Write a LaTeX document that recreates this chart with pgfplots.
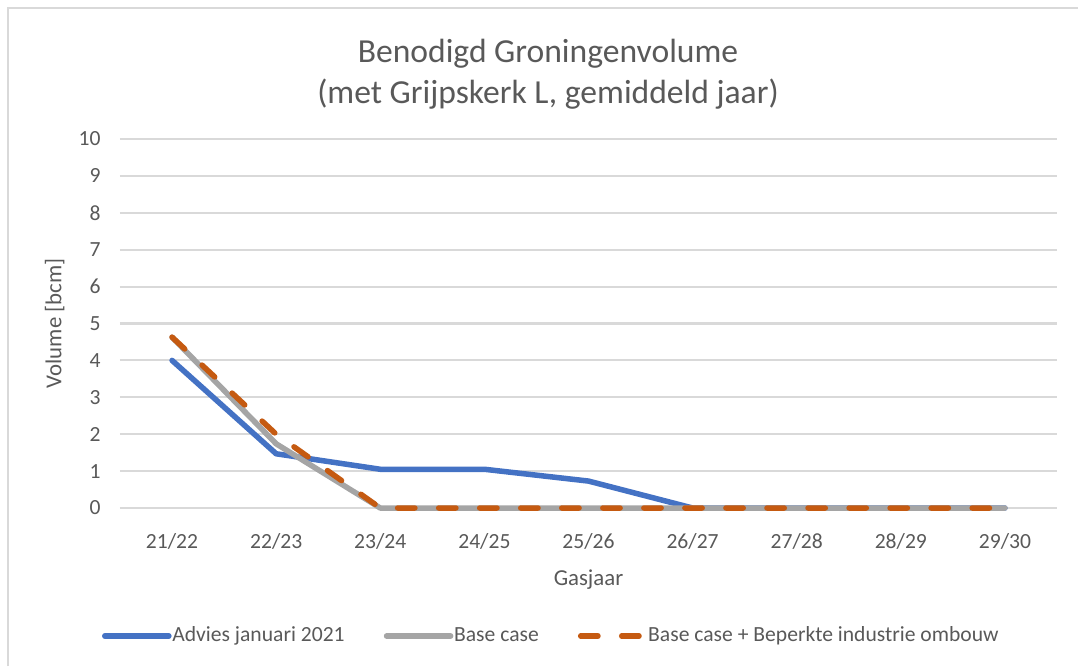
\documentclass[border=0pt]{standalone}
\usepackage{pgfplots}
\pgfplotsset{compat=1.18}
\usepackage{fontspec}
\setmainfont{Carlito}
\definecolor{cblue}{HTML}{4472C4}
\definecolor{cgray}{HTML}{A5A5A5}
\definecolor{corange}{HTML}{C55A11}
\definecolor{textgray}{HTML}{595959}
\definecolor{gridgray}{HTML}{D9D9D9}
\begin{document}
\begin{tikzpicture}[x=0.416667pt,y=0.416667pt]
\path[use as bounding box] (0,0) rectangle (1078,666);
\draw[gridgray, line width=0.9pt] (8,0) -- (8,658) -- (1078,658);
\node[anchor=base, font=\fontsize{14}{17}\selectfont, text=textgray, inner sep=0pt] at (548,604) {Benodigd Groningenvolume};
\node[anchor=base, font=\fontsize{14}{17}\selectfont, text=textgray, inner sep=0pt] at (548,563) {(met Grijpskerk L, gemiddeld jaar)};
\begin{axis}[
  at={(50pt,65.833pt)}, anchor=south west,
  scale only axis, width=390.42pt, height=153.75pt,
  xmin=-0.5, xmax=8.5, ymin=0, ymax=10,
  xtick={0,...,8}, ytick={0,...,10},
  xticklabels={21/22,22/23,23/24,24/25,25/26,26/27,27/28,28/29,29/30},
  axis line style={draw=none},
  major tick length=0pt,
  ymajorgrids, grid style={gridgray, line width=0.85pt},
  clip=false,
  /pgf/number format/assume math mode=true,
  tick label style={font=\fontsize{9}{11}\selectfont, text=textgray},
  yticklabel style={inner sep=0pt, xshift=-7.9pt},
  xticklabel style={inner sep=0pt, yshift=-10.4pt},
  xlabel={Gasjaar}, ylabel={Volume [bcm]},
  label style={font=\fontsize{9.5}{11}\selectfont, text=textgray},
  xlabel style={at={(axis description cs:0.5,-0.2087)}, anchor=base, inner sep=0pt},
  ylabel style={at={(axis description cs:-0.0625,0.5)}, anchor=base, inner sep=0pt},
  legend columns=3,
  legend style={at={(axis description cs:-0.0192,-0.3469)}, anchor=west, draw=none, fill=none,
    inner sep=0pt, outer sep=0pt, font=\fontsize{9}{11}\selectfont, text=textgray,
    nodes={inner sep=0pt},
    /tikz/every odd column/.append style={column sep=0.3pt},
    /tikz/every even column/.append style={column sep=16.3pt}},
  legend image code/.code={\draw[#1] (0pt,0pt) -- (26.7pt,0pt);},
]
\addplot[cblue, line width=2.3pt, line join=round, line cap=round] coordinates {
(0,4.0) (1,1.47) (2,1.05) (3,1.05) (4,0.73) (5,0) (6,0) (7,0) (8,0)};
\addlegendentry{Advies januari 2021}
\addplot[cgray, line width=2.3pt, line join=round, line cap=round] coordinates {
(0,4.63) (1,1.74) (2,0) (3,0) (4,0) (5,0) (6,0) (7,0) (8,0)};
\addlegendentry{Base case}
\addplot[corange, line width=2.3pt, line join=round, line cap=round, dash pattern=on 7.2pt off 9.9pt] coordinates {
(0,4.63) (1,2.0) (2,0) (3,0) (4,0) (5,0) (6,0) (7,0) (8,0)};
\addlegendentry{Base case + Beperkte industrie ombouw}
\end{axis}
\end{tikzpicture}
\end{document}
